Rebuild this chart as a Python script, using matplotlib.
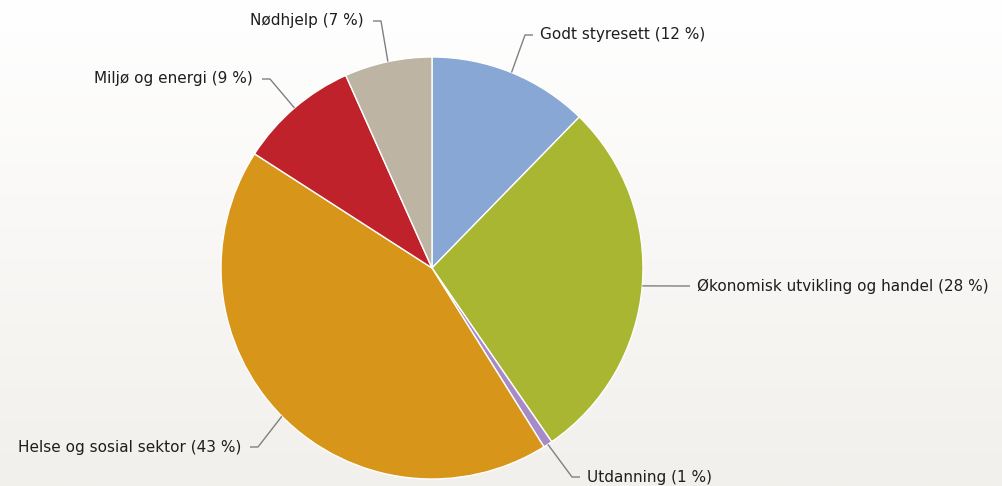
import numpy as np
import matplotlib
matplotlib.use("Agg")
import matplotlib.pyplot as plt

categories = ["Godt styresett", "Økonomisk utvikling og handel", "Utdanning",
              "Helse og sosial sektor", "Miljø og energi", "Nødhjelp"]
shares = [12.3, 28.1, 0.7, 43.0, 9.2, 6.7]
label_pct = [12, 28, 1, 43, 9, 7]
colors = ["#88a7d4", "#a9b631", "#a78bc9", "#d7961a", "#c0222c", "#bdb4a3"]

W, H = 1003, 486
fig = plt.figure(figsize=(W / 100, H / 100), dpi=100)
ax = fig.add_axes([0, 0, 1, 1])

# background gradient
grad = np.linspace(0, 1, 256).reshape(-1, 1)
top = np.array([1.0, 1.0, 1.0])
bot = np.array([0xf2, 0xf0, 0xec]) / 255
img = top[None, None, :] * (1 - grad[:, :, None]) + bot[None, None, :] * grad[:, :, None]
ax.imshow(img, extent=[0, W, 0, H], aspect="auto", origin="upper", zorder=0)

cx, cy, r = 432, H - 268, 211
wedges, _ = ax.pie(shares, colors=colors, startangle=90, counterclock=False,
                   center=(cx, cy), radius=r, frame=True,
                   wedgeprops=dict(edgecolor="white", linewidth=1.0))
for w in wedges:
    w.set_zorder(2)

# label layout: (text x, text y in pixels from top, alignment)
label_pos = [(540, 35, "left"), (697, 286, "left"), (587, 477, "left"),
             (241, 447, "right"), (253, 79, "right"), (364, 21, "right")]

for w, cat, pct, (tx, ty, ha) in zip(wedges, categories, label_pct, label_pos):
    ang = np.deg2rad((w.theta1 + w.theta2) / 2)
    ex, ey = cx + r * np.cos(ang), cy + r * np.sin(ang)
    tyd = H - ty
    if ha == "left":
        pts = [(ex, ey), (tx - 15, tyd), (tx - 7, tyd)]
    else:
        pts = [(ex, ey), (tx + 17, tyd), (tx + 9, tyd)]
    ax.plot([p[0] for p in pts], [p[1] for p in pts], color="#808080",
            lw=1.0, zorder=3, solid_capstyle="butt")
    ax.text(tx, tyd, f"{cat} ({pct} %)", ha=ha, va="center", fontsize=11,
            color="#1e1e1e", family="DejaVu Sans", zorder=4)

ax.set_xlim(0, W)
ax.set_ylim(0, H)
ax.set_aspect("auto")
ax.axis("off")
fig.savefig("out.png", dpi=100)
